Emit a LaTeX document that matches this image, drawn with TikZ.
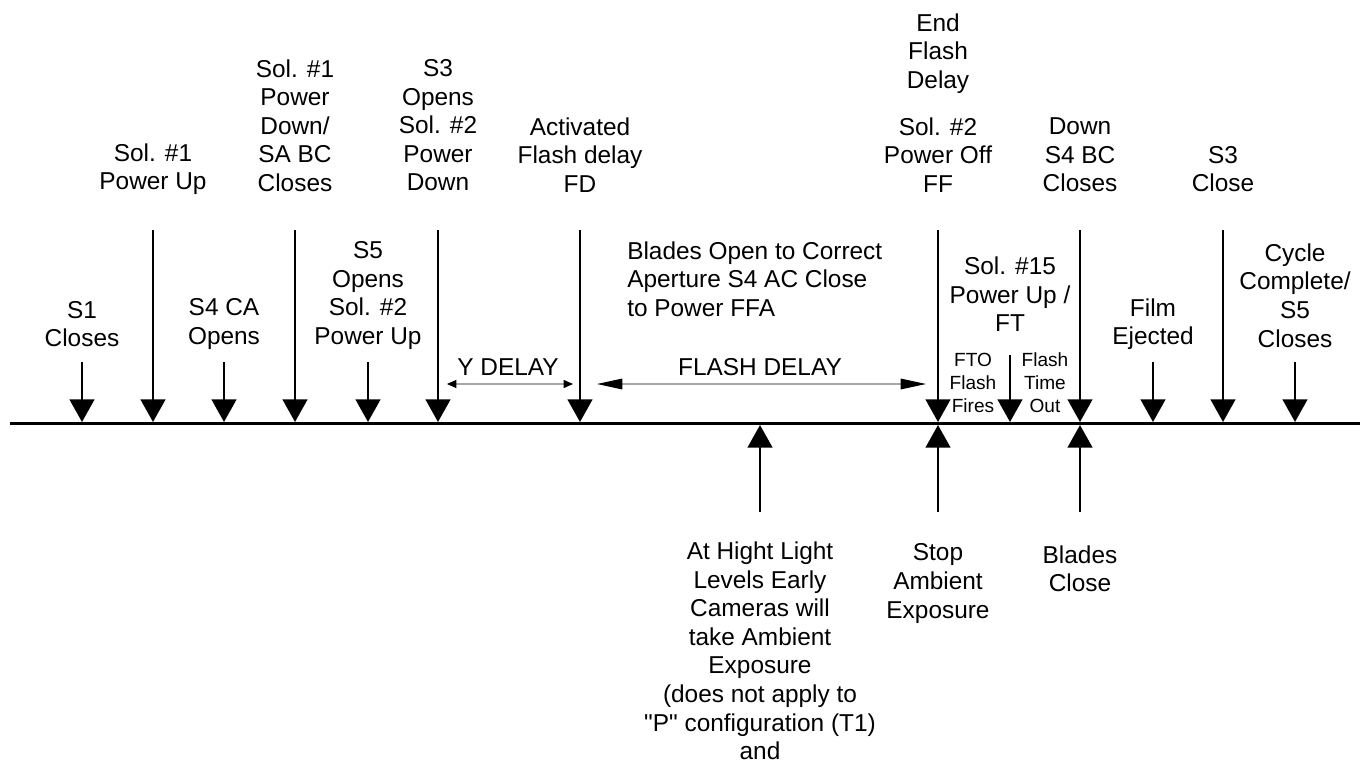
\documentclass[tikz,border=0pt]{standalone}
\usepackage{fontspec}
\setmainfont{Liberation Sans}[Ligatures=TeXOff]
\usetikzlibrary{arrows.meta}
\begin{document}
\begin{tikzpicture}[x=0.75pt,y=-0.75pt,
  lbl/.style={align=center,inner sep=0pt,font=\fontsize{18.3}{21.4}\selectfont},
  smalllbl/.style={align=center,inner sep=0pt,font=\fontsize{14.3}{17.2}\selectfont},
  evarrow/.style={line width=1.9pt,-{Triangle[length=17pt,width=18.5pt]}},
  axisline/.style={line width=2.3pt},
  spanarrow/.style={draw=black!35,line width=0.8pt},
  smallhead/.style={{Triangle[length=7pt,width=6pt,color=black]}-{Triangle[length=7pt,width=6pt,color=black]}},
  bighead/.style={{Triangle[length=19pt,width=8pt,color=black]}-{Triangle[length=19pt,width=8pt,color=black]}}
]
\useasboundingbox (0,0) rectangle (1360,764);
% axis
\coordinate (axL) at (10,423.5);
\coordinate (axR) at (1360,423.5);
\draw[axisline] (axL) -- (axR);

% top labels
\node[lbl] (s1) at (82,324) {S1\\Closes};
\node[lbl] (sol1up) at (153,169) {Sol. \#1\\Power Up};
\node[lbl] (s4ca) at (224,324) {S4 CA\\Opens};
\node[lbl] (sol1down) at (295,125.5) {Sol. \#1\\Power\\Down/\\SA BC\\Closes};
\node[lbl] (s5) at (368,295.5) {S5\\Opens\\Sol. \#2\\Power Up};
\node[lbl] (s3opens) at (438,125.5) {S3\\Opens\\Sol. \#2\\Power\\Down};
\node[lbl] (activated) at (580,155) {Activated\\Flash delay\\FD};
\node[lbl,align=left,anchor=west] (blades) at (627,279) {Blades Open to Correct\\Aperture S4 AC Close\\to Power FFA};
\node[lbl] (endflash) at (938,53.5) {End\\Flash\\Delay};
\node[lbl] (sol2off) at (938,155) {Sol. \#2\\Power Off\\FF};
\node[lbl] (sol15) at (1010,294.5) {Sol. \#15\\Power Up /\\FT};
\node[smalllbl] (fto) at (973,383) {FTO\\Flash\\Fires};
\node[smalllbl] (fto2) at (1045,383) {Flash\\Time\\Out};
\node[lbl] (downs4) at (1080,155) {Down\\S4 BC\\Closes};
\node[lbl] (film) at (1153,324) {Film\\Ejected};
\node[lbl] (s3close) at (1223,169) {S3\\Close};
\node[lbl] (cycle) at (1295,295.5) {Cycle\\Complete/\\S5\\Closes};

% delay spans
\node[lbl] (ydelay) at (508,367) {Y DELAY};
\node[lbl] (flashdelay) at (760,367) {FLASH DELAY};
\coordinate (yd1) at (447,384);
\coordinate (yd2) at (573,384);
\coordinate (fd1) at (597,384);
\coordinate (fd2) at (926,384);
\draw[spanarrow,smallhead] (yd1) -- (yd2);
\draw[spanarrow,bighead] (fd1) -- (fd2);

% bottom labels
\node[lbl] (hight) at (760,651) {At Hight Light\\Levels Early\\Cameras will\\take Ambient\\Exposure\\(does not apply to\\"P" configuration (T1)\\and};
\node[lbl] (stop) at (938,583.5) {Stop\\Ambient\\Exposure};
\node[lbl] (bclose) at (1080,569) {Blades\\Close};

% down arrows
\foreach \n/\x/\y in {a1/82/362, a2/153/230, a3/224/362, a4/295/230, a5/368/362, a6/438/230, a7/580/230, a8/938/230, a9/1010/355, a10/1080/230, a11/1153/362, a12/1223/230, a13/1295/362}{
  \coordinate (\n top) at (\x,\y);
  \coordinate (\n tip) at (\x,422);
  \draw[evarrow] (\n top) -- (\n tip);
}
% up arrows
\foreach \n/\x in {u1/760, u2/938, u3/1080}{
  \coordinate (\n bot) at (\x,512);
  \coordinate (\n tip) at (\x,425);
  \draw[evarrow] (\n bot) -- (\n tip);
}
\end{tikzpicture}
\end{document}
